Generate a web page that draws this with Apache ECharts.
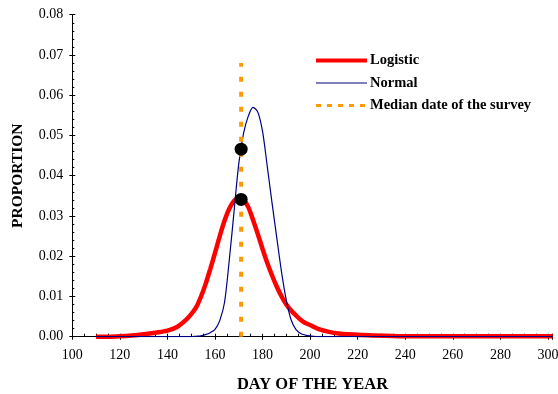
<!DOCTYPE html>
<html>
<head>
<meta charset="utf-8">
<script src="https://cdn.jsdelivr.net/npm/echarts@6/dist/echarts.min.js"></script>
<style>
  html, body { margin: 0; padding: 0; background: #fff; }
  #chart { width: 558px; height: 394px; }
</style>
</head>
<body>
<div id="chart"></div>
<script>
// Day of the year at which each curve is sampled
const days = [110, 115, 120, 125, 130, 135, 140, 144, 148, 150, 152, 154, 156, 158, 160,
  162, 164, 166, 168, 170, 172, 174, 176, 178, 180, 182, 184, 186, 188, 190, 192, 194,
  196, 198, 200, 204, 208, 212, 216, 220, 226, 240, 260, 280, 300, 302];

// Logistic fit (proportion per day)
const logisticValues = [0.0000, 0.0000, 0.0001, 0.0003, 0.0006, 0.0010, 0.0015, 0.0024,
  0.0043, 0.0056, 0.0072, 0.0098, 0.0130, 0.0168, 0.0208, 0.0250, 0.0288, 0.0318, 0.0337,
  0.0345, 0.0340, 0.0322, 0.0290, 0.0255, 0.0218, 0.0183, 0.0152, 0.0124, 0.0100, 0.0080,
  0.0065, 0.0053, 0.0042, 0.0034, 0.0029, 0.0018, 0.0012, 0.0008, 0.0006, 0.0005, 0.0003,
  0.0001, 0.0001, 0.0001, 0.0001, 0.0001];

// Normal fit (proportion per day)
const normalValues = [0, 0, 0, 0, 0, 0, 0, 0, 0, 0, 0.0001, 0.0002, 0.0005, 0.0010, 0.0018,
  0.0040, 0.0085, 0.0190, 0.0310, 0.0430, 0.0505, 0.0548, 0.0570, 0.0558, 0.0510, 0.0422,
  0.0332, 0.0245, 0.0160, 0.0090, 0.0042, 0.0018, 0.0008, 0.0004, 0.0002, 0, 0, 0, 0, 0, 0,
  0, 0, 0, 0, 0];

// Median survey date, drawn as a vertical marker line
const medianDays = [171, 171];
const medianValues = [0, 0.068];

// Value of each fitted curve on the median date
const markerDays = [171, 171];
const markerValues = [0.0466, 0.0341];

const seriesNames = ['Logistic', 'Normal', 'Median date of the survey'];

const pairs = (xs, ys) => xs.map((x, i) => [x, ys[i]]);

const serif = '"Liberation Serif", "Times New Roman", serif';
const xMin = 100, xMax = 302, xStep = 20;
const yMin = 0, yMax = 0.08, yStep = 0.01;

const chart = echarts.init(document.getElementById('chart'), null, { renderer: 'canvas' });

const tickLabel = { fontFamily: serif, fontSize: 14, color: '#000' };

chart.setOption({
  animation: false,
  backgroundColor: '#fff',
  grid: { left: 72.3, right: 5.3, top: 14.7, bottom: 57.3, containLabel: false, outerBoundsMode: 'none' },
  legend: {
    orient: 'vertical',
    left: 314,
    top: 53,
    padding: 0,
    itemWidth: 51,
    itemHeight: 14,
    itemGap: 7.5,
    selectedMode: false,
    // line-only keys: the point symbol of each key is made invisible
    itemStyle: { opacity: 0 },
    textStyle: { fontFamily: serif, fontSize: 14.5, fontWeight: 'bold', color: '#000', padding: [0, 0, 0, -2] },
    data: [
      { name: seriesNames[0], lineStyle: { width: 4 } },
      { name: seriesNames[1], lineStyle: { width: 1.2 } },
      { name: seriesNames[2], lineStyle: { type: [5, 6], width: 3 } }
    ]
  },
  xAxis: [
    {
      type: 'value', min: xMin, max: xMax, interval: xStep,
      name: 'DAY OF THE YEAR', nameLocation: 'middle', nameGap: 40,
      nameTextStyle: { fontFamily: serif, fontSize: 16.5, fontWeight: 'bold', color: '#000' },
      axisLine: { show: true, onZero: false, lineStyle: { color: '#000', width: 1 } },
      axisTick: { show: true, inside: true, length: 3, lineStyle: { color: '#000' } },
      minorTick: { show: true, splitNumber: 4, length: 3, lineStyle: { color: '#000' } },
      axisLabel: Object.assign({ margin: 12, showMaxLabel: false,
        formatter: v => (v % xStep === 0 ? String(v) : '') }, tickLabel),
      splitLine: { show: false }
    },
    {
      type: 'value', min: xMin, max: xMax, interval: xStep, position: 'bottom',
      axisLine: { show: false },
      axisTick: { show: true, inside: false, length: 3, lineStyle: { color: '#000' } },
      axisLabel: { show: false },
      splitLine: { show: false }
    }
  ],
  yAxis: [
    {
      type: 'value', min: yMin, max: yMax, interval: yStep,
      name: 'PROPORTION', nameLocation: 'middle', nameGap: 46, nameRotate: 90,
      nameTextStyle: { fontFamily: serif, fontSize: 15.5, fontWeight: 'bold', color: '#000' },
      axisLine: { show: true, onZero: false, lineStyle: { color: '#000', width: 1 } },
      axisTick: { show: true, inside: true, length: 3, lineStyle: { color: '#000' } },
      minorTick: { show: true, splitNumber: 5, length: 2, lineStyle: { color: '#000' } },
      axisLabel: Object.assign({ margin: 9, formatter: v => v.toFixed(2) }, tickLabel),
      splitLine: { show: false }
    },
    {
      type: 'value', min: yMin, max: yMax, interval: yStep, position: 'left',
      axisLine: { show: false },
      axisTick: { show: true, inside: false, length: 3, lineStyle: { color: '#000' } },
      axisLabel: { show: false },
      splitLine: { show: false }
    }
  ],
  series: [
    {
      name: seriesNames[0], type: 'line', data: pairs(days, logisticValues),
      symbol: 'none', smooth: 0.3, z: 2,
      lineStyle: { color: '#ff0000', width: 4.5 }, itemStyle: { color: '#ff0000' }
    },
    {
      name: seriesNames[1], type: 'line', data: pairs(days, normalValues),
      symbol: 'none', smooth: 0.3, z: 3,
      lineStyle: { color: '#000080', width: 1.2 }, itemStyle: { color: '#000080' }
    },
    {
      name: seriesNames[2], type: 'line', data: pairs(medianDays, medianValues),
      symbol: 'none', z: 4,
      lineStyle: { color: '#ff9900', width: 4, type: [5, 10] }, itemStyle: { color: '#ff9900' }
    },
    {
      name: 'markers', type: 'scatter', data: pairs(markerDays, markerValues),
      symbol: 'circle', symbolSize: 13, z: 5,
      itemStyle: { color: '#000', opacity: 1 }
    }
  ]
});
</script>
</body>
</html>
